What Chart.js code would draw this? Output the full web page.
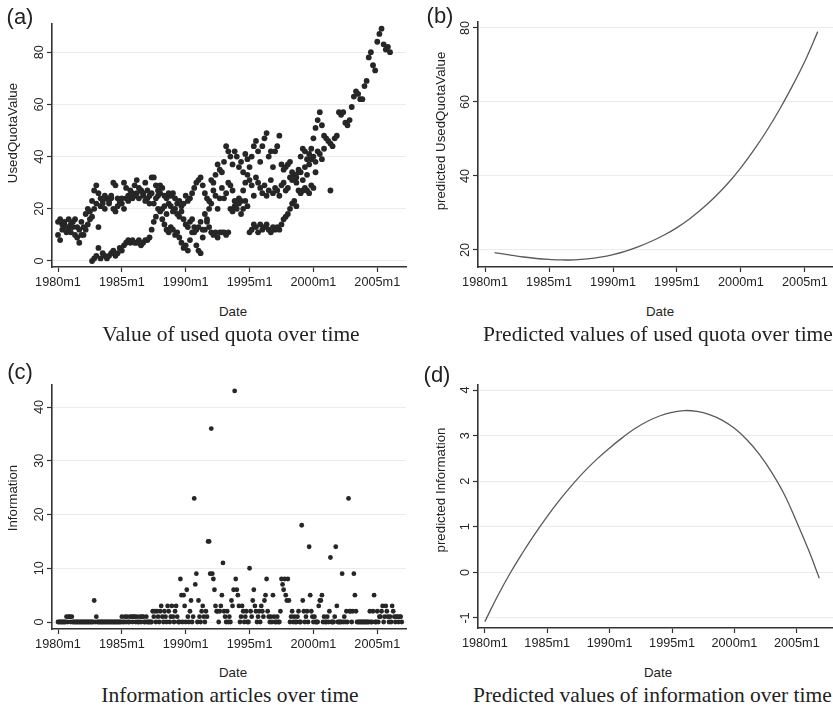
<!DOCTYPE html>
<html>
<head>
<meta charset="utf-8">
<script src="https://cdn.jsdelivr.net/npm/chart.js@4.4.1/dist/chart.umd.min.js"></script>
<style>
  body { margin: 0; background: #fff; }
  #page { position: relative; width: 833px; height: 709px; overflow: hidden; background: #fff;
          font-family: "Liberation Sans", Arial, sans-serif; color: #222; }
  canvas { position: absolute; }
  .lbl { position: absolute; white-space: nowrap; transform: translate(-50%, -50%); }
  .tag { font-size: 22px; }
  .ytitle { font-size: 13.3px; transform: translate(-50%, -50%) rotate(-90deg); }
  .xtitle { font-size: 13.3px; }
  .cap { font-family: "Liberation Serif", "Times New Roman", serif; font-size: 21.5px; }
  .capl { transform: translate(0, -50%); }
</style>
</head>
<body>
<div id="page">
  <canvas id="chart_a" width="416" height="300" style="left:0;top:0"></canvas>
  <canvas id="chart_b" width="413" height="300" style="left:420px;top:0"></canvas>
  <canvas id="chart_c" width="416" height="330" style="left:0;top:330px"></canvas>
  <canvas id="chart_d" width="413" height="330" style="left:420px;top:330px"></canvas>

  <div class="lbl tag" style="left:20px;top:17px">(a)</div>
  <div class="lbl tag" style="left:440px;top:16px">(b)</div>
  <div class="lbl tag" style="left:20px;top:372px">(c)</div>
  <div class="lbl tag" style="left:437px;top:375px">(d)</div>

  <div class="lbl ytitle" style="left:12px;top:133px">UsedQuotaValue</div>
  <div class="lbl ytitle" style="left:440px;top:131px">predicted UsedQuotaValue</div>
  <div class="lbl ytitle" style="left:12px;top:498px">Information</div>
  <div class="lbl ytitle" style="left:440px;top:490px">predicted Information</div>

  <div class="lbl xtitle" style="left:233px;top:311px">Date</div>
  <div class="lbl xtitle" style="left:660px;top:311px">Date</div>
  <div class="lbl xtitle" style="left:233px;top:672px">Date</div>
  <div class="lbl xtitle" style="left:658px;top:672px">Date</div>

  <div class="lbl cap" style="left:231px;top:334px">Value of used quota over time</div>
  <div class="lbl cap capl" style="left:483px;top:334px">Predicted values of used quota over time</div>
  <div class="lbl cap" style="left:230px;top:695px">Information articles over time</div>
  <div class="lbl cap capl" style="left:473px;top:695px">Predicted values of information over time</div>
</div>

<script>
// x tick years (shown as 1980m1 ...)
const xTickYears = [1980, 1985, 1990, 1995, 2000, 2005];

// (a) used quota value, one value every two months from 1980m1
const quotaUpper = [
  15, 16, 14, 15, 13, 16,   // 1980
  14, 15, 16, 13, 12, 15,   // 1981
  13, 18, 20, 19, 23, 27,   // 1982
  29, 26, 24, 22, 25, 24,   // 1983
  23, 25, 30, 29, 24, 22,   // 1984
  24, 30, 28, 25, 27, 26,   // 1985
  29, 31, 28, 27, 26, 30,   // 1986
  27, 25, 32, 32, 29, 27,   // 1987
  29, 28, 25, 24, 26, 25,   // 1988
  26, 24, 22, 23, 21, 22,   // 1989
  25, 23, 24, 26, 28, 30,   // 1990
  31, 32, 29, 26, 24, 23,   // 1991
  31, 30, 33, 37, 35, 34,   // 1992
  38, 44, 42, 40, 37, 42,   // 1993
  40, 36, 38, 34, 41, 39,   // 1994
  36, 40, 44, 46, 42, 38,   // 1995
  44, 47, 49, 40, 42, 36,   // 1996
  42, 44, 48, 37, 35, 36,   // 1997
  37, 38, 34, 33, 32, 34,   // 1998
  40, 43, 42, 39, 41, 43,   // 1999
  47, 51, 54, 57, 52, 48,   // 2000
  47, 46, 45, 44, 47, 48,   // 2001
  57, 56, 57, 53, 52, 54,   // 2002
  59, 63, 65, 64, 62, 62,   // 2003
  67, 69, 78, 80, 75, 73,   // 2004
  84, 87, 89, 83, 81, 82,   // 2005
  80                        // 2006
];
const quotaMiddle = [
  10, 8, 12, 14, 11, 12,    // 1980
  11, 13, 10, 9, 7, 10,     // 1981
  10, 12, 14, 16, 17, 20,   // 1982
  22, 13, 21, 23, 20, 24,   // 1983
  22, 24, 20, 19, 21, 23,   // 1984
  22, 20, 24, 23, 25, 24,   // 1985
  25, 26, 24, 27, 25, 23,   // 1986
  24, 22, 26, 22, 24, 25,   // 1987
  26, 20, 21, 18, 22, 21,   // 1988
  19, 20, 18, 17, 19, 16,   // 1989
  14, 13, 15, 16, 11, 12,   // 1990
  13, 15, 12, 18, 16, 20,   // 1991
  22, 27, 25, 20, 24, 28,   // 1992
  24, 26, 30, 29, 27, 23,   // 1993
  22, 24, 23, 27, 30, 33,   // 1994
  31, 29, 25, 32, 30, 28,   // 1995
  26, 29, 25, 27, 31, 26,   // 1996
  28, 27, 25, 29, 30, 27,   // 1997
  28, 32, 31, 33, 30, 35,   // 1998
  34, 31, 36, 33, 37, 39,   // 1999
  40, 38, 42, 41, 39, 43    // 2000
];
const quotaLower = [
  null, null, null, null, null, null,   // 1980
  null, null, null, null, null, null,   // 1981
  null, null, null, null, 0, 1,         // 1982
  2, 5, 1, 3, 2, 1,         // 1983
  2, 3, 4, 2, 3, 5,         // 1984
  4, 6, 7, 8, 7, 8,         // 1985
  7, 7, 8, 6, 7, 8,         // 1986
  8, 9, 12, 15, 17, 20,     // 1987
  19, 16, 14, 12, 11, 13,   // 1988
  12, 10, 11, 9, 7, 5,      // 1989
  6, 4, 8, 11, 13, 6,       // 1990
  4, 3, 9, 12, 15, 13,      // 1991
  11, 10, 11, 9, 11, 11,    // 1992
  11, 10, 11, 20, 19, 21,   // 1993
  20, 22, 18, 20, 23, 21,   // 1994
  11, 12, 14, 13, 11, 14,   // 1995
  12, 13, 14, 12, 11, 13,   // 1996
  12, 13, 12, 14, 16, 17,   // 1997
  18, 20, 22, 23, 21, 27,   // 1998
  26, 27, 28, 27, 26, 29,   // 1999
  28, 34, null, null, null, null,   // 2000
  null, null, 27            // 2001
];

// (b) predicted used quota value
const predQuotaDates = [1980.75, 1981, 1982, 1983, 1984, 1985, 1986, 1987, 1988, 1989, 1990, 1991, 1992,
  1993, 1994, 1995, 1996, 1997, 1998, 1999, 2000, 2001, 2002, 2003, 2004, 2005, 2006];
const predQuotaValues = [19.3, 19.15, 18.6, 18.1, 17.7, 17.45, 17.3, 17.35, 17.6, 18.05, 18.75, 19.7, 20.9,
  22.35, 24.05, 26.05, 28.45, 31.25, 34.45, 38.1, 42.25, 46.95, 52.15, 57.9, 64.2, 71.05, 79.0];

// (c) information articles per month from 1980m1
const infoArticles = [
  0, 0, 0, 0, 0, 0, 0, 0, 1, 0, 1, 1,     // 1980
  0, 1, 0, 0, 0, 0, 0, 0, 0, 0, 0, 0,     // 1981
  0, 0, 0, 0, 0, 0, 0, 0, 0, 0, 4, 0,     // 1982
  1, 0, 0, 0, 0, 0, 0, 0, 0, 0, 0, 0,     // 1983
  0, 0, 0, 0, 0, 0, 0, 0, 0, 0, 0, 0,     // 1984
  1, 0, 0, 1, 0, 1, 0, 0, 1, 1, 0, 1,     // 1985
  1, 0, 1, 0, 0, 1, 0, 1, 1, 0, 0, 1,     // 1986
  0, 0, 0, 0, 0, 2, 1, 2, 0, 2, 1, 0,     // 1987
  2, 3, 1, 0, 2, 1, 0, 3, 2, 0, 1, 3,     // 1988
  1, 0, 2, 3, 1, 0, 0, 8, 5, 0, 5, 3,     // 1989
  0, 6, 1, 0, 2, 4, 0, 1, 23, 7, 9, 0,    // 1990
  4, 1, 0, 2, 3, 1, 0, 2, 1, 15, 15, 9,   // 1991
  36, 9, 8, 6, 3, 2, 2, 0, 2, 3, 5, 11,   // 1992
  2, 1, 0, 2, 0, 1, 0, 4, 3, 6, 43, 8,    // 1993
  6, 5, 3, 0, 1, 3, 2, 0, 1, 2, 0, 0,     // 1994
  10, 2, 1, 4, 6, 3, 2, 0, 1, 2, 0, 3,    // 1995
  2, 1, 4, 5, 8, 2, 1, 0, 1, 0, 5, 1,     // 1996
  0, 0, 1, 0, 0, 2, 8, 7, 6, 8, 5, 4,     // 1997
  8, 4, 0, 1, 2, 0, 1, 0, 0, 1, 2, 0,     // 1998
  0, 18, 4, 2, 0, 1, 2, 0, 14, 5, 2, 1,   // 1999
  0, 1, 0, 0, 0, 3, 4, 4, 5, 0, 1, 0,     // 2000
  0, 1, 0, 2, 12, 0, 0, 0, 1, 14, 3, 0,   // 2001
  0, 0, 0, 9, 0, 1, 0, 2, 0, 23, 2, 2,    // 2002
  0, 2, 9, 5, 2, 0, 0, 0, 0, 0, 0, 0,     // 2003
  0, 0, 0, 0, 0, 2, 0, 0, 2, 5, 0, 0,     // 2004
  2, 0, 1, 1, 2, 3, 0, 1, 3, 2, 1, 0,     // 2005
  1, 0, 3, 2, 1, 0, 1, 1, 0, 1, 1, 0      // 2006
];

// (d) predicted information
const predInfoDates = [1980, 1981, 1982, 1983, 1984, 1985, 1986, 1987, 1988, 1989, 1990, 1991, 1992, 1993,
  1994, 1995, 1996, 1997, 1998, 1999, 2000, 2001, 2002, 2003, 2004, 2005, 2006, 2006.8];
const predInfoValues = [-1.08, -0.53, -0.03, 0.42, 0.84, 1.23, 1.59, 1.92, 2.22, 2.49, 2.73, 2.95, 3.15, 3.31,
  3.43, 3.51, 3.55, 3.53, 3.46, 3.34, 3.16, 2.91, 2.59, 2.19, 1.71, 1.1, 0.45, -0.13];

const ink = "#222";
const font = '"Liberation Sans", Arial, sans-serif';

// Stata-style vertical y tick labels
const rotatedYLabels = {
  id: "rotatedYLabels",
  afterDraw(chart) {
    const s = chart.scales.y;
    const ctx = chart.ctx;
    ctx.save();
    ctx.fillStyle = ink;
    ctx.font = "12.7px " + font;
    ctx.textAlign = "center";
    ctx.textBaseline = "middle";
    s.ticks.forEach((t) => {
      ctx.save();
      ctx.translate(s.right - 13, s.getPixelForValue(t.value));
      ctx.rotate(-Math.PI / 2);
      ctx.fillText(String(t.value), 0, 0);
      ctx.restore();
    });
    ctx.restore();
  },
};

function xAxis(min, max, h) {
  return {
    type: "linear",
    min: min,
    max: max,
    afterBuildTicks: (s) => { s.ticks = xTickYears.map((v) => ({ value: v })); },
    afterFit: (s) => { s.height = h; },
    ticks: { callback: (v) => v + "m1", autoSkip: false, maxRotation: 0, minRotation: 0,
             color: ink, font: { size: 12.7, family: font }, padding: 3 },
    grid: { drawOnChartArea: false, drawTicks: true, tickLength: 5, tickColor: "#333", tickWidth: 1.2 },
    border: { color: "#333", width: 1.6 },
  };
}

function yAxis(min, max, ticks, w) {
  return {
    type: "linear",
    min: min,
    max: max,
    afterBuildTicks: (s) => { s.ticks = ticks.map((v) => ({ value: v })); },
    afterFit: (s) => { s.width = w; },
    ticks: { display: false },
    grid: { color: "#ebebeb", lineWidth: 1, drawTicks: true, tickLength: 5, tickColor: "#333", tickWidth: 1.2 },
    border: { color: "#333", width: 1.6 },
  };
}

function pts(values, start, step) {
  const out = [];
  values.forEach((v, i) => { if (v !== null) out.push({ x: start + i * step, y: v }); });
  return out;
}

function baseOptions(pad, xs, ys) {
  return {
    responsive: false,
    animation: false,
    layout: { padding: pad },
    plugins: { legend: { display: false }, tooltip: { enabled: false } },
    scales: { x: xs, y: ys },
  };
}

const dot = { pointRadius: 2.9, pointBackgroundColor: "#262626", pointBorderWidth: 0, showLine: false };
const curve = { showLine: true, borderColor: "#5a5a5a", borderWidth: 1.3, pointRadius: 0, tension: 0.4 };

// (a)
new Chart(document.getElementById("chart_a"), {
  type: "scatter",
  data: {
    datasets: [
      Object.assign({ data: pts(quotaUpper, 1980, 1 / 6) }, dot),
      Object.assign({ data: pts(quotaMiddle, 1980, 1 / 6) }, dot),
      Object.assign({ data: pts(quotaLower, 1980, 1 / 6) }, dot),
    ],
  },
  options: baseOptions({ top: 24, right: 10, left: 0, bottom: 0 },
    xAxis(1979.53, 2007.25, 33), yAxis(-2.3, 90.8, [0, 20, 40, 60, 80], 52)),
  plugins: [rotatedYLabels],
});

// (b)
new Chart(document.getElementById("chart_b"), {
  type: "scatter",
  data: {
    datasets: [Object.assign({ data: predQuotaDates.map((d, i) => ({ x: d, y: predQuotaValues[i] })) }, curve)],
  },
  options: baseOptions({ top: 22, right: 0, left: 0, bottom: 0 },
    xAxis(1979.45, 2007.19, 33), yAxis(15.4, 81.6, [20, 40, 60, 80], 58)),
  plugins: [rotatedYLabels],
});

// (c)
new Chart(document.getElementById("chart_c"), {
  type: "scatter",
  data: {
    datasets: [Object.assign({ data: pts(infoArticles, 1980, 1 / 12) }, dot, { pointRadius: 2.4 })],
  },
  options: baseOptions({ top: 55, right: 10, left: 0, bottom: 0 },
    xAxis(1979.53, 2007.25, 31), yAxis(-1.3, 44.1, [0, 10, 20, 30, 40], 52)),
  plugins: [rotatedYLabels],
});

// (d)
new Chart(document.getElementById("chart_d"), {
  type: "scatter",
  data: {
    datasets: [Object.assign({ data: predInfoDates.map((d, i) => ({ x: d, y: predInfoValues[i] })) }, curve)],
  },
  options: baseOptions({ top: 55, right: 0, left: 0, bottom: 0 },
    xAxis(1979.45, 2007.9, 32), yAxis(-1.22, 4.11, [-1, 0, 1, 2, 3, 4], 58)),
  plugins: [rotatedYLabels],
});
</script>
</body>
</html>
